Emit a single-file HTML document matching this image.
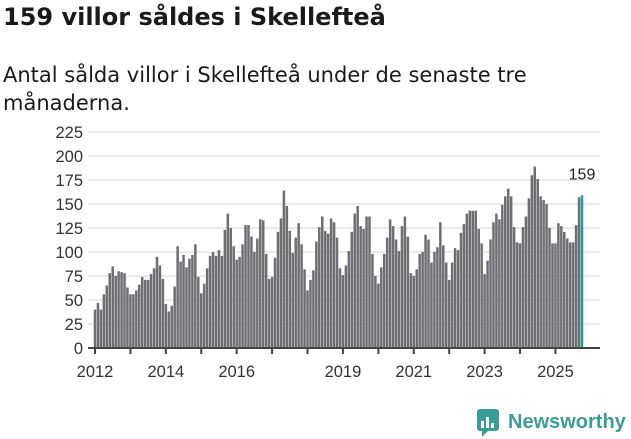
<!DOCTYPE html>
<html><head><meta charset="utf-8"><style>
body{margin:0;width:631px;height:439px;background:#fff;font-family:"Liberation Sans","DejaVu Sans",sans-serif;overflow:hidden}
#title{position:absolute;left:3px;top:3px;font-family:"DejaVu Sans",sans-serif;font-size:24px;font-weight:bold;color:#1a1a1a}
#sub{position:absolute;left:3px;top:61px;font-family:"DejaVu Sans",sans-serif;font-size:21px;line-height:28px;color:#1a1a1a;width:580px}
svg{position:absolute;left:0;top:0}
</style></head><body>
<div id="title">159 villor såldes i Skellefteå</div>
<div id="sub">Antal sålda villor i Skellefteå under de senaste tre månaderna.</div>
<svg id="chart" width="631" height="439"></svg>
<script>
const values=[40,47,40,56,65,78,85,75,80,79,78,63,56,56,60,66,74,71,71,77,83,95,86,72,
46,38,44,64,106,90,97,84,93,97,108,74,
57,67,83,96,100,96,102,96,123,140,125,106,
92,95,108,128,
128,116,100,114,134,133,98,72,74,94,121,135,164,148,122,99,115,130,108,82,60,71,81,111,126,137,122,119,135,131,115,83,76,86,101,121,140,148,127,124,137,137,98,75,67,84,98,115,134,127,113,101,127,137,116,78,75,82,
98,100,118,113,89,100,105,131,107,89,71,89,104,102,120,129,140,143,143,143,124,109,77,91,113,131,140,134,149,158,166,158,126,110,109,126,137,156,180,189,176,158,154,150,125,109,109,130,127,121,114,110,110,128,157,159];
const yTicks=[0,25,50,75,100,125,150,175,200,225];
const yearLabels=[2012,2014,2016,2019,2021,2023,2025];
const tickYears=[2012,2013,2014,2015,2016,2017,2018,2019,2020,2021,2022,2023,2024,2025];
const NS="http://www.w3.org/2000/svg";
const svg=document.getElementById('chart');
const y0=348,yMax=225,yPix=216;
const y=v=>y0-v/yMax*yPix;
const x0=95,x1=582;
const step=(x1-x0)/(values.length-1);
const xi=i=>x0+i*step;
const xYear=yr=>x0+(yr-2012)*12*step;
function mk(t,a){const e=document.createElementNS(NS,t);for(const k in a)e.setAttribute(k,a[k]);svg.appendChild(e);return e;}
yTicks.forEach(v=>{
 const l=mk('line',{x1:88,x2:600,y1:y(v),y2:y(v),stroke:'#e3e3e3','stroke-width':1.5});
 
 
 const t=mk('text',{x:83,y:y(v)+6,'text-anchor':'end','font-size':16.5,fill:'#333'});
 t.textContent=v;
 
 
});
values.forEach((v,i)=>{
 const last=i===values.length-1;
 const r=mk('rect',{x:xi(i)-1.25,y:y(v),width:2.5,height:y0-y(v),fill:last?'#1f9e96':'#6e6d72'});
 
 
});
const ax=mk('line',{x1:88,x2:600,y1:y0,y2:y0,stroke:'#444','stroke-width':2});


tickYears.forEach(yr=>{
 const l=mk('line',{x1:xYear(yr),x2:xYear(yr),y1:y0,y2:y0+6,stroke:'#444','stroke-width':2});
 
 
});
yearLabels.forEach(yr=>{
 const t=mk('text',{x:xYear(yr),y:377,'text-anchor':'middle','font-size':16.5,fill:'#333'});
 t.textContent=yr;
 
 
});
const lv=values[values.length-1];
const lbl=mk('text',{x:xi(values.length-1),y:y(lv)-16,'text-anchor':'middle','font-size':16,fill:'#222'});
lbl.textContent=lv;


</script>
<svg width="631" height="439">
<rect x="477" y="409" width="22" height="22" rx="3" fill="#3a9e96"/>
<rect x="481" y="421" width="3" height="7" fill="#fff"/><rect x="486" y="417" width="3" height="11" fill="#fff"/><rect x="491" y="423" width="3" height="5" fill="#fff"/>
<polygon points="482,431 488,431 482,437" fill="#3a9e96"/>
<text x="508" y="428" font-size="20" font-weight="bold" fill="#3a9e96">Newsworthy</text>
</svg>
</body></html>
